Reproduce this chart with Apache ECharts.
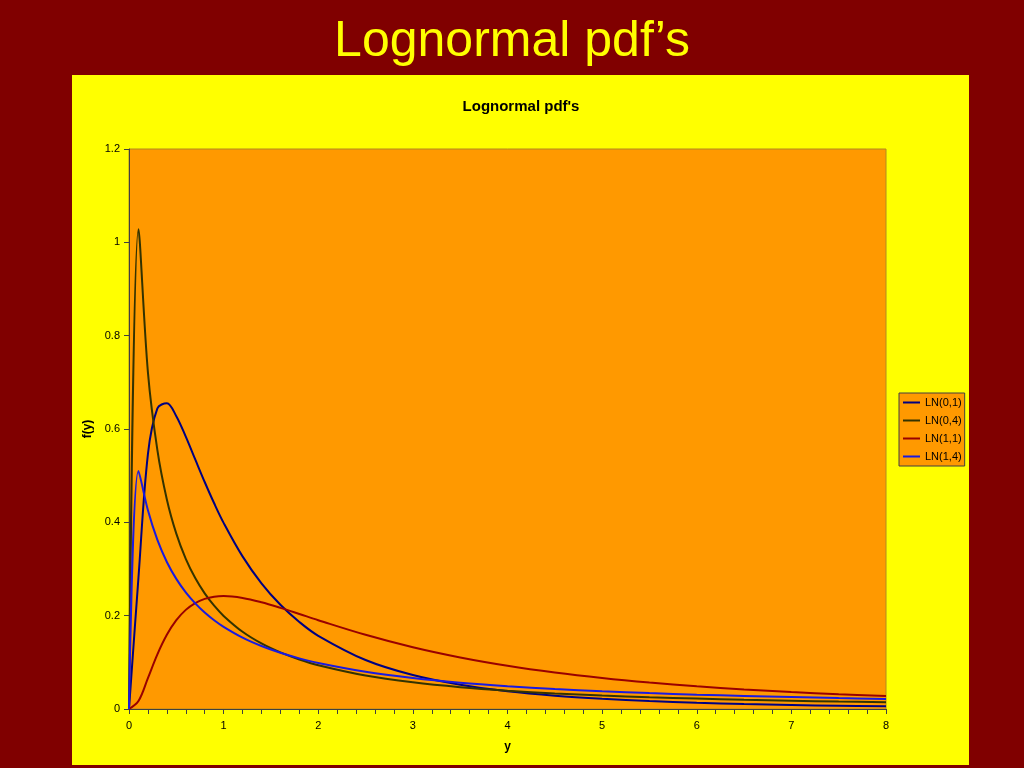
<!DOCTYPE html>
<html>
<head>
<meta charset="utf-8">
<style>
html,body{margin:0;padding:0;background:#800000;}
#chart{width:1024px;height:768px;}
</style>
<script src="https://cdn.jsdelivr.net/npm/echarts@6/dist/echarts.min.js"></script>
</head>
<body>
<div id="chart"></div>
<script>
const xs = [0,0.1,0.2,0.3,0.4,0.5,0.6,0.7,0.8,0.9,1.0,1.2,1.4,1.6,1.8,2.0,2.5,3.0,3.5,4.0,4.5,5.0,5.5,6.0,6.5,7.0,7.5,8.0];
const ln01 = [0,0.2816,0.5463,0.6442,0.6554,0.6275,0.5836,0.5348,0.4864,0.4408,0.3989,0.3270,0.2693,0.2233,0.1865,0.1569,0.1049,0.0727,0.0520,0.0382,0.0286,0.0219,0.0170,0.0134,0.0107,0.0086,0.0070,0.0057];
const ln04 = [0,1.0282,0.7215,0.5547,0.4490,0.3757,0.3218,0.2805,0.2478,0.2213,0.1995,0.1655,0.1405,0.1213,0.1061,0.0939,0.0718,0.0572,0.0468,0.0392,0.0334,0.0289,0.0252,0.0223,0.0198,0.0178,0.0160,0.0145];
const ln11 = [0,0.0171,0.0663,0.1172,0.1590,0.1903,0.2124,0.2271,0.2360,0.2406,0.2420,0.2380,0.2287,0.2167,0.2036,0.1903,0.1590,0.1323,0.1104,0.0926,0.0781,0.0663,0.0566,0.0486,0.0420,0.0364,0.0318,0.0279];
const ln14 = [0,0.5102,0.4258,0.3623,0.3151,0.2788,0.2499,0.2264,0.2068,0.1902,0.1760,0.1529,0.1349,0.1204,0.1085,0.0986,0.0797,0.0664,0.0565,0.0490,0.0429,0.0381,0.0341,0.0307,0.0279,0.0255,0.0234,0.0216];
const seriesNames = ['LN(0,1)','LN(0,4)','LN(1,1)','LN(1,4)'];
const seriesColors = ['#000080','#333300','#990000','#1a1ae0'];
const mainTitle = 'Lognormal pdf\u2019s';
const chartTitle = "Lognormal pdf's";

const FONT = '"Liberation Sans", Arial, sans-serif';
const allData = [ln01, ln04, ln11, ln14];

const chart = echarts.init(document.getElementById('chart'));
chart.setOption({
  animation: false,
  backgroundColor: '#800000',
  graphic: [
    { type: 'rect', z: -10, shape: { x: 72, y: 75, width: 897, height: 690 }, style: { fill: '#ffff00' } },
    { type: 'text', z: 10, style: { text: mainTitle, x: 512, y: 42, textAlign: 'center', textVerticalAlign: 'middle', fill: '#ffff00', font: '50px ' + FONT } },
    { type: 'text', z: 10, style: { text: chartTitle, x: 521, y: 107, textAlign: 'center', textVerticalAlign: 'middle', fill: '#000000', font: 'bold 15px ' + FONT } }
  ],
  grid: {
    left: 129, right: 138, top: 149, bottom: 59,
    show: true, backgroundColor: '#ff9900', borderColor: '#b08a20', borderWidth: 1
  },
  legend: {
    orient: 'vertical', left: 899, top: 393,
    backgroundColor: '#ff9900', borderColor: '#404040', borderWidth: 1,
    padding: [4, 3, 4, 4], itemGap: 7, itemWidth: 17, itemHeight: 2,
    icon: 'rect',
    textStyle: { fontSize: 11, fontFamily: FONT, color: '#000' },
    data: seriesNames
  },
  xAxis: {
    type: 'value', min: 0, max: 8, interval: 1,
    name: 'y', nameLocation: 'middle', nameGap: 32,
    nameTextStyle: { fontSize: 12, fontWeight: 'bold', fontFamily: FONT, color: '#000' },
    axisLine: { show: true, lineStyle: { color: '#404040', width: 1 } },
    axisTick: { show: true, length: 5, lineStyle: { color: '#404040' } },
    minorTick: { show: true, splitNumber: 5, length: 5, lineStyle: { color: '#404040' } },
    axisLabel: { margin: 11, fontSize: 11, fontFamily: FONT, color: '#000' },
    splitLine: { show: false }
  },
  yAxis: {
    type: 'value', min: 0, max: 1.2, interval: 0.2,
    name: 'f(y)', nameLocation: 'middle', nameGap: 33, nameRotate: 90,
    nameTextStyle: { fontSize: 12, fontWeight: 'bold', fontFamily: FONT, color: '#000' },
    axisLine: { show: true, lineStyle: { color: '#404040', width: 1 } },
    axisTick: { show: true, length: 5, lineStyle: { color: '#404040' } },
    axisLabel: { margin: 9, fontSize: 11, fontFamily: FONT, color: '#000' },
    splitLine: { show: false }
  },
  series: allData.map((arr, i) => ({
    name: seriesNames[i],
    type: 'line',
    smooth: 0.35,
    showSymbol: false,
    symbol: 'none',
    color: seriesColors[i],
    lineStyle: { width: 2, color: seriesColors[i] },
    data: xs.map((x, j) => [x, arr[j]])
  }))
});
</script>
</body>
</html>
